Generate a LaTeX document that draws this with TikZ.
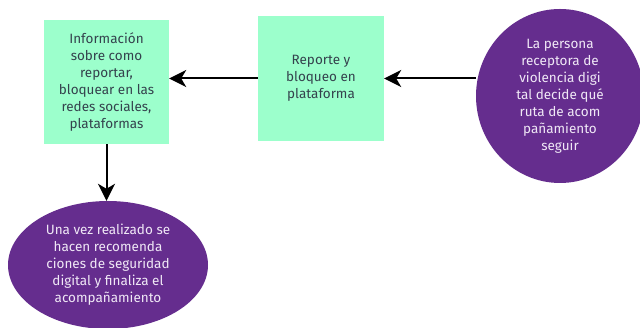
\documentclass[tikz,border=0pt]{standalone}
\usepackage{fontspec}
\setmainfont{Fira Sans}
\usetikzlibrary{shapes.geometric,arrows.meta}

\definecolor{verde}{HTML}{9CFFCC}
\definecolor{morado}{HTML}{652D8E}
\definecolor{textoosc}{HTML}{34424D}
\definecolor{textoclaro}{HTML}{F0E8F6}

\tikzset{
  caja/.style={rectangle, fill=verde, text=textoosc, align=center,
    font=\fontsize{13.5}{17}\selectfont},
  burbuja/.style={ellipse, fill=morado, text=textoclaro, align=center,
    inner sep=0pt, font=\fontsize{13.5}{17}\selectfont},
  flecha/.style={line width=2pt, -{Stealth[length=17pt,width=17pt,inset=5pt]}}
}

\begin{document}
\begin{tikzpicture}[x=1pt,y=1pt]
			\useasboundingbox (0,0) rectangle (640,328);

			% cajas verdes
			\node[caja, minimum width=125, minimum height=124] (info) at (106.5,246)
				{Información\\sobre como\\reportar,\\bloquear en las\\redes sociales,\\plataformas};
			\node[caja, minimum width=126, minimum height=125] (reporte) at (321,249.5)
				{Reporte y\\bloqueo en\\plataforma};

			% circulos morados
			\node[burbuja, minimum width=168, minimum height=174] (persona) at (560,232)
				{La persona\\receptora de\\violencia digi\\tal decide qué\\ruta de acom\\pañamiento\\seguir};
			\node[burbuja, minimum width=200, minimum height=128] (cierre) at (108,63)
				{Una vez realizado se\\hacen recomenda\\ciones de seguridad\\digital y finaliza el\\acompañamiento};

			% flechas
			\draw[flecha] (persona.west |- reporte.east) -- (reporte.east);
			\draw[flecha] (reporte.west) -- (reporte.west -| info.east);
			\draw[flecha] (info.south) -- (info.south |- cierre.north);

		\end{tikzpicture}
\end{document}
